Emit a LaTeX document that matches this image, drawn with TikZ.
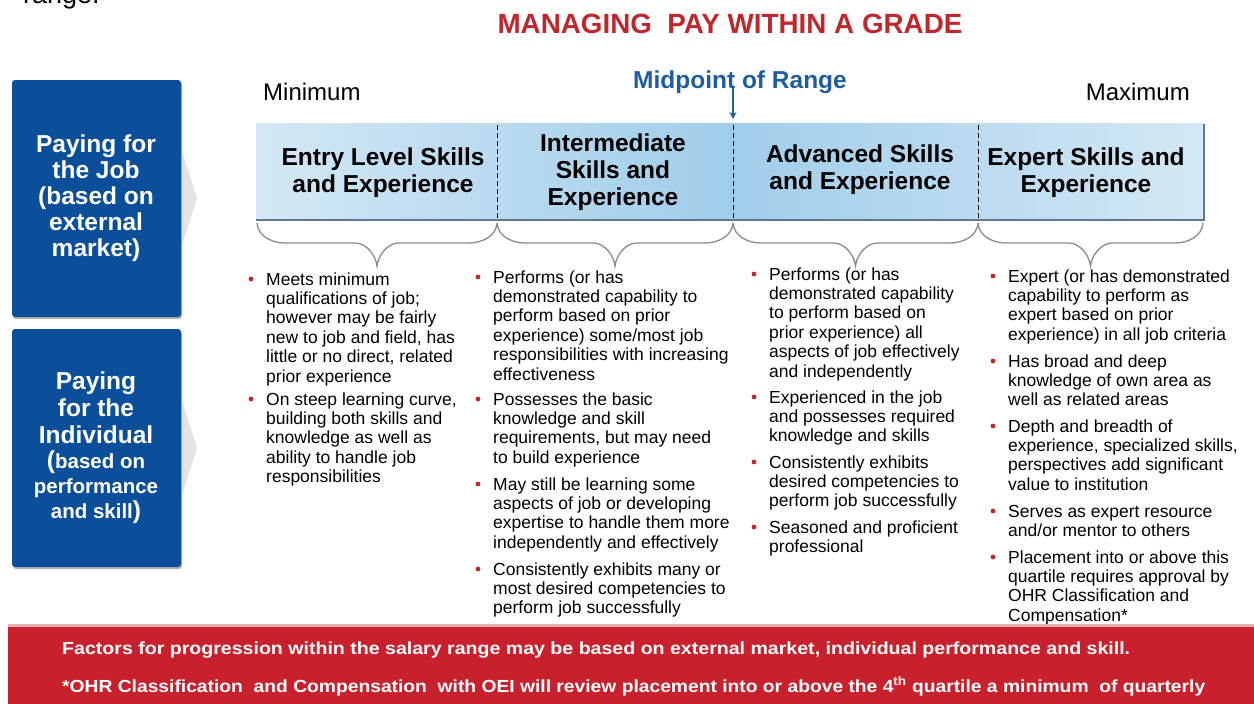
\documentclass[tikz,border=0pt]{standalone}
\usepackage{fontspec}
\setmainfont{Liberation Sans}
\usetikzlibrary{calc,arrows.meta}
\newcommand\fs[2]{\fontsize{#1}{#2}\selectfont}
\definecolor{titlered}{RGB}{192,39,45}
\definecolor{boxblue}{RGB}{11,79,155}
\definecolor{midblue}{RGB}{30,94,160}
\definecolor{barlight}{RGB}{212,232,245}
\definecolor{bardark}{RGB}{160,205,234}
\definecolor{barshadow}{RGB}{95,120,145}
\definecolor{bracegray}{RGB}{140,140,140}
\definecolor{bulletred}{RGB}{192,39,45}
\definecolor{footred}{RGB}{200,33,45}
\definecolor{chevgray}{RGB}{226,228,232}
\tikzset{
  sidebox/.style={fill=boxblue, rounded corners=3pt},
  sidetext/.style={text=white, font=\bfseries\fs{24.5}{26}, align=center, inner sep=0pt, anchor=base},
  headtext/.style={font=\bfseries\fs{24.5}{27}, align=center, inner sep=0pt, anchor=base},
  item/.style={font=\fs{17.5}{19.4}, align=left, inner sep=0pt, anchor=base west},
  divider/.style={dashed, dash pattern=on 5pt off 3pt, line width=1pt},
  bracestyle/.style={draw=bracegray, line width=1.3pt},
  foottext/.style={text=white, font=\bfseries\fs{17.5}{20}, inner sep=0pt, anchor=base west},
}
% bulleted item: name, x, first baseline, number of lines, text
% (a multi-line node's base anchor sits on its last line)
\newcommand\itemat[5]{%
  \node[item] (#1) at (#2,{#3+(#4-1)*19.4}) {#5};
  \fill[bulletred] ({#2-15},{#3-6}) circle (2.4);}
% downward curly brace between two named points
\newcommand\gradebrace[2]{%
  \coordinate (bm) at ($(#1)!.5!(#2)$);
  \draw[bracestyle] (#1) .. controls +(1,14) and +(-12,0) .. ($(#1)+(28,20)$)
    -- ($(bm)+(-22,20)$) .. controls +(12,0) and +(-1,-10) .. ($(bm)+(0,43)$)
    .. controls +(1,-10) and +(-12,0) .. ($(bm)+(22,20)$)
    -- ($(#2)+(-28,20)$) .. controls +(12,0) and +(-1,14) .. (#2);}
\begin{document}
\begin{tikzpicture}[x=1pt,y=-1pt]
\clip (0,0) rectangle (1254,704);
\fill[white] (0,0) rectangle (1254,704);

% heading text cut at the top edge
\node[font=\fs{27}{30}, inner sep=0pt, anchor=base west] (range) at (23,4) {range.};

% title
\node[font=\bfseries\fs{27.8}{30}, text=titlered, inner sep=0pt, anchor=base] (title) at (730,34) {MANAGING\ \ PAY WITHIN A GRADE};

% left side boxes with chevrons
\fill[chevgray] (181,148) -- (197,198) -- (181,248) -- cycle;
\fill[chevgray] (181,398) -- (197,448) -- (181,498) -- cycle;
\fill[black!30, rounded corners=3pt] (13,82) rectangle (182,319);
\fill[black!30, rounded corners=3pt] (13,331) rectangle (182,569);
\fill[sidebox] (12,80) rectangle (181,317);
\fill[sidebox] (12,329) rectangle (181,567);
\node[sidetext] (job) at (96,256) {Paying for\\the Job\\(based on\\external\\market)};
\node[sidetext, font=\bfseries\fs{24.5}{27}] (ind) at (96,443) {Paying\\for the\\Individual};
\node[sidetext, font=\bfseries\fs{20.5}{25}] (indsub) at (96,518)
  {{\fs{24.5}{25}(}based on\\performance\\and skill{\fs{24.5}{25})}};

% range ends
\node[font=\fs{24}{28}, inner sep=0pt, anchor=base west] (min) at (263,100) {Minimum};
\node[font=\fs{24}{28}, inner sep=0pt, anchor=base east] (max) at (1190,100) {Maximum};

% grade bar: lighter at both ends, deeper blue around the midpoint
\shade[left color=barlight, right color=barlight, middle color=bardark, rounded corners=2pt] (256,123) rectangle (1204,220);
\draw[barshadow, line width=1.5pt] (256,220) -- (1204,220) -- (1204,124);
\coordinate (b0) at (257,223);
\coordinate (b1) at (497,223);
\coordinate (b2) at (733,223);
\coordinate (b3) at (978,223);
\coordinate (b4) at (1203,223);
\draw[divider] (497,125) -- (497,219);
\draw[divider] (733,125) -- (733,219);
\draw[divider] (978,125) -- (978,219);

% midpoint marker
\node[font=\bfseries\fs{24.5}{28}, text=midblue, inner sep=0pt, anchor=base] (mid) at (740,88) {Midpoint of Range};
\coordinate (midtop) at (733,86);
\coordinate (midtip) at (733,119);
\draw[midblue, line width=1.6pt, -{Stealth[length=7pt,width=7pt]}] (midtop) -- (midtip);

% column headings (anchored on their last line)
\node[headtext] (h1) at (383,192) {Entry Level Skills\\and Experience};
\node[headtext] (h2) at (613,205) {Intermediate\\Skills and\\Experience};
\node[headtext] (h3) at (860,189) {Advanced Skills\\and Experience};
\node[headtext] (h4) at (1086,192) {Expert Skills and\\Experience};

% braces
\gradebrace{b0}{b1}
\gradebrace{b1}{b2}
\gradebrace{b2}{b3}
\gradebrace{b3}{b4}

% column 1
\itemat{c1a}{266}{285}{6}{Meets minimum\\qualifications of job;\\however may be fairly\\new to job and field, has\\little or no direct, related\\prior experience}
\itemat{c1b}{266}{405}{5}{On steep learning curve,\\building both skills and\\knowledge as well as\\ability to handle job\\responsibilities}
% column 2
\itemat{c2a}{493}{283}{6}{Performs (or has\\demonstrated capability to\\perform based on prior\\experience) some/most job\\responsibilities with increasing\\effectiveness}
\itemat{c2b}{493}{405}{4}{Possesses the basic\\knowledge and skill\\requirements, but may need\\to build experience}
\itemat{c2c}{493}{490}{4}{May still be learning some\\aspects of job or developing\\expertise to handle them more\\independently and effectively}
\itemat{c2d}{493}{575}{3}{Consistently exhibits many or\\most desired competencies to\\perform job successfully}
% column 3
\itemat{c3a}{769}{280}{6}{Performs (or has\\demonstrated capability\\to perform based on\\prior experience) all\\aspects of job effectively\\and independently}
\itemat{c3b}{769}{403}{3}{Experienced in the job\\and possesses required\\knowledge and skills}
\itemat{c3c}{769}{468}{3}{Consistently exhibits\\desired competencies to\\perform job successfully}
\itemat{c3d}{769}{533}{2}{Seasoned and proficient\\professional}
% column 4
\itemat{c4a}{1008}{282}{4}{Expert (or has demonstrated\\capability to perform as\\expert based on prior\\experience) in all job criteria}
\itemat{c4b}{1008}{367}{3}{Has broad and deep\\knowledge of own area as\\well as related areas}
\itemat{c4c}{1008}{432}{4}{Depth and breadth of\\experience, specialized skills,\\perspectives add significant\\value to institution}
\itemat{c4d}{1008}{517}{2}{Serves as expert resource\\and/or mentor to others}
\itemat{c4e}{1008}{563}{4}{Placement into or above this\\quartile requires approval by\\OHR Classification and\\Compensation*}

% footer band
\fill[footred!35] (8,624) rectangle (1254,628);
\fill[footred] (8,627) rectangle (1254,704);
\node[foottext] (f1) at (62,654) {\resizebox{1068pt}{\height}{Factors for progression within the salary range may be based on external market, individual performance and skill.}};
\node[foottext] (f2) at (62,692) {\resizebox{1143pt}{\height}{*OHR Classification\ \ and Compensation\ \ with OEI will review placement into or above the 4\textsuperscript{th} quartile a minimum\ \ of quarterly}};
\end{tikzpicture}
\end{document}
